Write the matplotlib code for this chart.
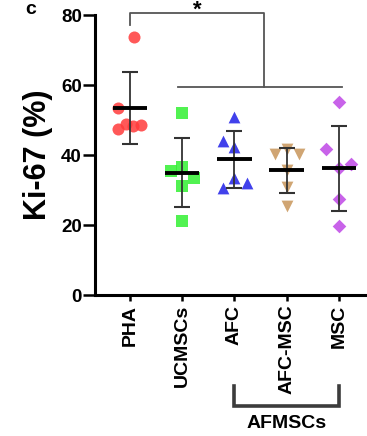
import numpy as np
import matplotlib
matplotlib.use("Agg")
import matplotlib.pyplot as plt
import matplotlib.transforms as mtrans

plt.rcParams['font.family'] = ['Liberation Sans', 'DejaVu Sans']
plt.rcParams['font.weight'] = 'bold'

# Ki-67 values (6 per group)
groups = ['PHA', 'UCMSCs', 'AFC', 'AFC-MSC', 'MSC']
pha = [73.8, 53.3, 47.3, 49.0, 48.3, 48.6]
ucmscs = [51.9, 35.5, 36.7, 33.5, 31.1, 21.2]
afc = [50.8, 44.1, 42.4, 33.3, 30.5, 31.9]
afc_msc = [40.3, 41.6, 40.3, 35.7, 30.8, 25.4]
msc = [55.2, 41.6, 36.2, 37.3, 27.4, 19.7]
values = [pha, ucmscs, afc, afc_msc, msc]

# horizontal spread of the dots in each column
spread = [
    [0.08, -0.22, -0.22, -0.08, 0.06, 0.22],
    [0, -0.22, 0, 0.23, 0, 0],
    [0, -0.22, 0, 0, -0.22, 0.24],
    [-0.23, 0, 0.23, 0, 0, 0],
    [0, -0.24, 0, 0.23, 0, 0],
]
colors = ['#ff3b3b', '#33f033', '#2020e8', '#c8965a', '#bf48e6']
markers = ['o', 's', '^', 'v', 'D']
msizes = [75, 68, 72, 72, 48]

fig = plt.figure(figsize=(3.67, 4.36), dpi=100)
ax = fig.add_axes([95 / 367, 141 / 436, 272 / 367, 280 / 436])

for i, vals in enumerate(values):
    xs = i + np.array(spread[i])
    ax.scatter(xs, vals, s=msizes[i], marker=markers[i], color=colors[i],
               alpha=0.85, linewidths=0, zorder=2)
    m = np.mean(vals)
    sd = np.std(vals, ddof=1)
    ax.errorbar(i, m, yerr=sd, fmt='none', ecolor='#333333', elinewidth=1.3,
                capsize=6, capthick=1.5, zorder=3)
    ax.plot([i - 0.33, i + 0.33], [m, m], color='black', lw=2.8, zorder=4,
            solid_capstyle='butt')

ax.set_xlim(-0.67, 4.54)
ax.set_ylim(0, 80)
ax.set_yticks([0, 20, 40, 60, 80])
ax.set_xticks(range(len(groups)))
ax.set_xticklabels(groups, rotation=90, fontsize=14, fontweight='bold')
ax.set_ylabel('Ki-67 (%)', fontsize=22, fontweight='bold', labelpad=6)
for lab in ax.get_yticklabels():
    lab.set_fontsize(13.5)
    lab.set_fontweight('bold')

for s in ['top', 'right']:
    ax.spines[s].set_visible(False)
for s in ['left', 'bottom']:
    ax.spines[s].set_linewidth(2.2)
ax.tick_params(axis='y', length=8.5, width=1.8, pad=1)
ax.tick_params(axis='x', length=4, width=1.8, pad=3)

# significance brackets
bc = '#555555'
ax.plot([0, 0, 2.56, 2.56], [77.1, 80.6, 80.6, 59.4], color=bc, lw=1.3,
        clip_on=False, zorder=1)
ax.plot([0.92, 4.06], [59.4, 59.4], color=bc, lw=1.3, clip_on=False, zorder=1)
fig_y = lambda py: 1 - py / 436
btr = mtrans.blended_transform_factory(ax.transData, fig.transFigure)
ax.text(1.28, fig_y(0), '*', ha='center', va='top', fontsize=16,
        fontweight='bold', transform=btr)

# AFMSCs group bracket below the tick labels
ax.plot([2, 2, 4, 4], [fig_y(386), fig_y(406), fig_y(406), fig_y(386)],
        color='#3c3c3c', lw=2.6, transform=btr, clip_on=False,
        solid_joinstyle='miter')
ax.text(3, fig_y(423), 'AFMSCs', ha='center', va='center', fontsize=14,
        fontweight='bold', transform=btr)

fig.text(31 / 367, fig_y(1), 'c', ha='center', va='top', fontsize=14,
         fontweight='bold')

fig.savefig('out.png', dpi=100)
